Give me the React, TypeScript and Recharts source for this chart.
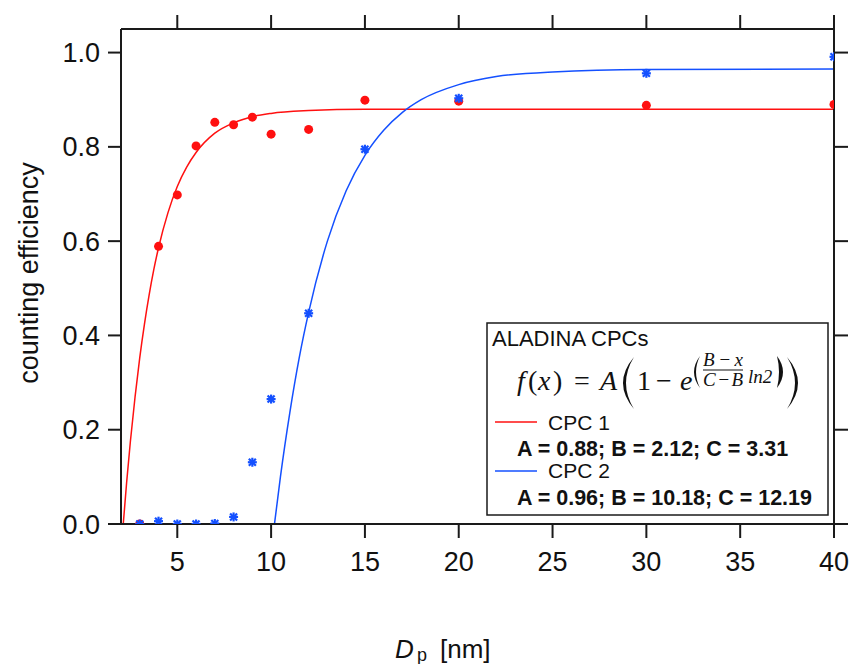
import React from "react";
import {
  ComposedChart,
  Line,
  Scatter,
  XAxis,
  YAxis,
} from "recharts";

// measured particle sizes (nm)
const sizes = [3, 4, 5, 6, 7, 8, 9, 10, 12, 15, 20, 30, 40];
const cpc1Eff = [0.0, 0.589, 0.698, 0.802, 0.852, 0.847, 0.863, 0.827, 0.837, 0.899, 0.897, 0.888, 0.89];
const cpc2Eff = [0.0, 0.006, 0.0, 0.0, 0.001, 0.015, 0.131, 0.265, 0.447, 0.795, 0.903, 0.956, 0.991];

// fitted curves
const fit1X = [2.12, 2.3, 2.5, 2.75, 3, 3.25, 3.5, 3.75, 4, 4.5, 5, 5.5, 6, 7, 8, 9, 10, 12, 15, 20, 30, 40];
const fit1Y = [0, 0.088, 0.175, 0.27, 0.353, 0.424, 0.486, 0.54, 0.586, 0.66, 0.716, 0.757, 0.788, 0.829, 0.851, 0.864, 0.871, 0.877, 0.88, 0.88, 0.88, 0.88];
const fit2X = [10.18, 10.5, 11, 11.5, 12, 13, 14, 15, 16, 17, 18, 20, 22, 25, 30, 40];
const fit2Y = [0, 0.101, 0.237, 0.353, 0.449, 0.6, 0.707, 0.782, 0.835, 0.873, 0.9, 0.932, 0.949, 0.959, 0.964, 0.965];

const xTicks = [5, 10, 15, 20, 25, 30, 35, 40];
const yTicks = [0, 0.2, 0.4, 0.6, 0.8, 1.0];

const RED = "#ff1010";
const BLUE = "#1450ff";
const AXIS = "#1a1a1a";
const SANS = "'Liberation Sans', Arial, sans-serif";
const SERIF = "'Liberation Serif', 'Times New Roman', serif";

const TICK_LEN = 14;
const LABEL_GAP = 14;

const cpc1Points = sizes.map((x, i) => ({ x, y: cpc1Eff[i] }));
const cpc2Points = sizes.map((x, i) => ({ x, y: cpc2Eff[i] }));
const fit1 = fit1X.map((x, i) => ({ x, y: fit1Y[i] }));
const fit2 = fit2X.map((x, i) => ({ x, y: fit2Y[i] }));

const Dot = (props: any) => {
  const { cx, cy } = props;
  return <circle cx={cx} cy={cy} r={4.5} fill={RED} />;
};

const Asterisk = (props: any) => {
  const { cx, cy } = props;
  return (
    <g stroke={BLUE} strokeWidth={2.2}>
      <line x1={cx - 4.5} y1={cy} x2={cx + 4.5} y2={cy} />
      <line x1={cx} y1={cy - 4.5} x2={cx} y2={cy + 4.5} />
      <line x1={cx - 3.5} y1={cy - 3.5} x2={cx + 3.5} y2={cy + 3.5} />
      <line x1={cx - 3.5} y1={cy + 3.5} x2={cx + 3.5} y2={cy - 3.5} />
    </g>
  );
};

// tick renderers: draw the outward tick mark plus (optionally) the label
const BottomTick = (p: any) => (
  <g>
    <line x1={p.x} y1={p.y - LABEL_GAP - TICK_LEN} x2={p.x} y2={p.y - LABEL_GAP} stroke={AXIS} strokeWidth={2} />
    <text x={p.x} y={p.y} dy="0.71em" textAnchor="middle" fontSize={27} fontFamily={SANS} fill="#111">
      {p.payload.value}
    </text>
  </g>
);

const LeftTick = (p: any) => (
  <g>
    <line x1={p.x + 8} y1={p.y} x2={p.x + 8 + 13} y2={p.y} stroke={AXIS} strokeWidth={2} />
    <text x={p.x} y={p.y} dy="0.355em" textAnchor="end" fontSize={27} fontFamily={SANS} fill="#111">
      {Number(p.payload.value).toFixed(1)}
    </text>
  </g>
);

const TopTick = (p: any) => (
  <line x1={p.x} y1={p.y} x2={p.x} y2={p.y + TICK_LEN} stroke={AXIS} strokeWidth={2} />
);

const RightTick = (p: any) => (
  <line x1={p.x - TICK_LEN} y1={p.y} x2={p.x} y2={p.y} stroke={AXIS} strokeWidth={2} />
);

function Overlay() {
  return (
    <svg
      width={850}
      height={664}
      style={{ position: "absolute", left: 0, top: 0, pointerEvents: "none" }}
    >
      {/* axis titles */}
      <text
        x={0}
        y={0}
        transform="translate(37.5,273) rotate(-90)"
        textAnchor="middle"
        fontSize={27}
        fontFamily={SANS}
        fill="#111"
      >
        counting efficiency
      </text>
      <text x={395} y={658} fontSize={26} fontFamily={SANS} fill="#111" fontStyle="italic">
        D
      </text>
      <text x={417} y={661} fontSize={18} fontFamily={SANS} fill="#111">
        p
      </text>
      <text x={440} y={658} fontSize={26} fontFamily={SANS} fill="#111">
        [nm]
      </text>

      {/* legend box */}
      <rect x={487} y={323} width={341} height={192} fill="#fff" stroke={AXIS} strokeWidth={1.5} />
      <text x={492} y={346} fontSize={22} fontFamily={SANS} fill="#111">
        ALADINA CPCs
      </text>

      {/* f(x) = A(1 - e^((B-x)/(C-B) ln2)) */}
      <g fontFamily={SERIF} fill="#111" fontSize={28}>
        <text x={517} y={390} fontStyle="italic">f</text>
        <text x={528} y={390}>(</text>
        <text x={538} y={390} fontStyle="italic">x</text>
        <text x={553} y={390}>)</text>
        <text x={574} y={390}>=</text>
        <text x={600} y={390} fontStyle="italic">A</text>
        <path d="M634 357 Q612 383 634 409 Q618 383 634 357 Z" />
        <text x={637} y={390}>1</text>
        <text x={656} y={390}>{"\u2212"}</text>
        <text x={680} y={390} fontStyle="italic">e</text>
        <path d="M700 356 Q688 372 700 388 Q692 372 700 356 Z" />
        <text x={703} y={366} fontSize={19} fontStyle="italic" textLength={40} lengthAdjust="spacing">
          B{"\u2212"}x
        </text>
        <line x1={703} y1={370} x2={743} y2={370} stroke="#111" strokeWidth={1.2} />
        <text x={703} y={386} fontSize={19} fontStyle="italic" textLength={40} lengthAdjust="spacing">
          C{"\u2212"}B
        </text>
        <text x={748} y={383} fontSize={19} fontStyle="italic">ln2</text>
        <path d="M777 356 Q789 372 777 388 Q781 372 777 356 Z" />
        <path d="M787 357 Q809 383 787 409 Q803 383 787 357 Z" />
      </g>

      {/* series entries */}
      <line x1={495} y1={422} x2={537} y2={422} stroke={RED} strokeWidth={1.5} />
      <text x={548} y={430} fontSize={21} fontFamily={SANS} fill="#111">
        CPC 1
      </text>
      <text x={517} y={456} fontSize={21.5} fontFamily={SANS} fontWeight="bold" fill="#111">
        A = 0.88; B = 2.12; C = 3.31
      </text>
      <line x1={495} y1={471} x2={537} y2={471} stroke={BLUE} strokeWidth={1.5} />
      <text x={548} y={478} fontSize={21} fontFamily={SANS} fill="#111">
        CPC 2
      </text>
      <text x={517} y={505} fontSize={21.5} fontFamily={SANS} fontWeight="bold" fill="#111">
        A = 0.96; B = 10.18; C = 12.19
      </text>
    </svg>
  );
}

export default function App() {
  return (
    <div style={{ position: "absolute", left: 0, top: 0, width: 850, height: 664, background: "#fff" }}>
      <ComposedChart width={850} height={664} margin={{ top: 0, right: 0, bottom: 0, left: 0 }}>
        <XAxis
          dataKey="x"
          type="number"
          domain={[2, 40]}
          ticks={xTicks}
          interval={0}
          allowDataOverflow
          height={140}
          tickSize={TICK_LEN}
          tickMargin={LABEL_GAP}
          tick={BottomTick}
          tickLine={false}
          stroke={AXIS}
          strokeWidth={2}
        />
        <XAxis
          xAxisId="top"
          orientation="top"
          dataKey="x"
          type="number"
          domain={[2, 40]}
          ticks={xTicks}
          interval={0}
          allowDataOverflow
          height={29}
          tickSize={TICK_LEN}
          tickMargin={0}
          tick={TopTick}
          tickFormatter={() => ""}
          tickLine={false}
          stroke={AXIS}
          strokeWidth={2}
        />
        <YAxis
          type="number"
          domain={[0, 1.05]}
          ticks={yTicks}
          interval={0}
          allowDataOverflow
          width={121}
          tickSize={13}
          tickMargin={8}
          tick={LeftTick}
          tickLine={false}
          stroke={AXIS}
          strokeWidth={2}
        />
        <YAxis
          yAxisId="right"
          orientation="right"
          type="number"
          domain={[0, 1.05]}
          ticks={yTicks}
          interval={0}
          allowDataOverflow
          width={16}
          tickSize={TICK_LEN}
          tickMargin={0}
          tick={RightTick}
          tickFormatter={() => ""}
          tickLine={false}
          stroke={AXIS}
          strokeWidth={2}
        />
        <Line
          data={fit1}
          dataKey="y"
          type="monotone"
          stroke={RED}
          strokeWidth={1.5}
          dot={false}
          activeDot={false}
          isAnimationActive={false}
        />
        <Line
          data={fit2}
          dataKey="y"
          type="monotone"
          stroke={BLUE}
          strokeWidth={1.5}
          dot={false}
          activeDot={false}
          isAnimationActive={false}
        />
        <Scatter data={cpc1Points} dataKey="y" shape={Dot} isAnimationActive={false} />
        <Scatter data={cpc2Points} dataKey="y" shape={Asterisk} isAnimationActive={false} />
      </ComposedChart>
      <Overlay />
    </div>
  );
}
